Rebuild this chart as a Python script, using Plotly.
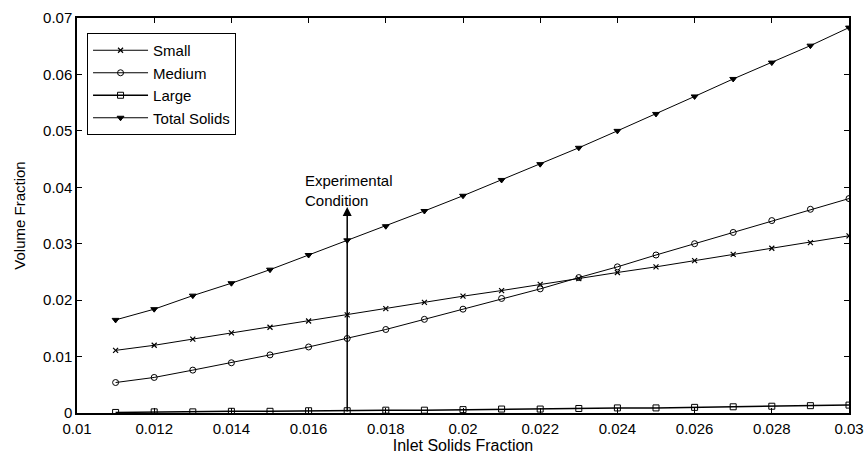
import plotly.graph_objects as go

x_vals = [0.011, 0.012, 0.013, 0.014, 0.015, 0.016, 0.017, 0.018, 0.019, 0.020,
          0.021, 0.022, 0.023, 0.024, 0.025, 0.026, 0.027, 0.028, 0.029, 0.030]
small = [0.0111, 0.0120, 0.0131, 0.0142, 0.0152, 0.0163, 0.0174, 0.0185, 0.0196, 0.0207,
         0.0217, 0.0228, 0.0238, 0.0249, 0.0259, 0.0270, 0.0281, 0.0292, 0.0302, 0.0314]
medium = [0.0054, 0.0063, 0.0076, 0.0089, 0.0103, 0.0117, 0.0132, 0.0148, 0.0166, 0.0184,
          0.0203, 0.0220, 0.0240, 0.0259, 0.0280, 0.0300, 0.0320, 0.0341, 0.0361, 0.0380]
large = [0.0001, 0.0002, 0.0002, 0.0003, 0.0003, 0.0004, 0.0004, 0.0005, 0.0005, 0.0006,
         0.0007, 0.0007, 0.0008, 0.0009, 0.0009, 0.0010, 0.0011, 0.0012, 0.0013, 0.0014]
total = [0.0165, 0.0184, 0.0208, 0.0230, 0.0254, 0.0280, 0.0306, 0.0331, 0.0358, 0.0385,
         0.0413, 0.0441, 0.0470, 0.0500, 0.0530, 0.0561, 0.0592, 0.0621, 0.0651, 0.0683]

exp_x = 0.017
arrow_top = 0.0365

x_ticks = [0.01, 0.012, 0.014, 0.016, 0.018, 0.02, 0.022, 0.024, 0.026, 0.028, 0.03]
x_tick_text = ["0.01", "0.012", "0.014", "0.016", "0.018", "0.02", "0.022", "0.024", "0.026", "0.028", "0.03"]
y_ticks = [0, 0.01, 0.02, 0.03, 0.04, 0.05, 0.06, 0.07]
y_tick_text = ["0", "0.01", "0.02", "0.03", "0.04", "0.05", "0.06", "0.07"]

FONT = "Liberation Sans, Arial, sans-serif"

fig = go.Figure()
fig.add_trace(go.Scatter(x=x_vals, y=small, name="Small", mode="lines+markers",
                         line=dict(color="black", width=1),
                         marker=dict(symbol="x-thin-open", size=5, color="black",
                                     line=dict(color="black", width=1.2))))
fig.add_trace(go.Scatter(x=x_vals, y=medium, name="Medium", mode="lines+markers",
                         line=dict(color="black", width=1),
                         marker=dict(symbol="circle-open", size=6, color="black",
                                     line=dict(color="black", width=1))))
fig.add_trace(go.Scatter(x=x_vals, y=large, name="Large", mode="lines+markers",
                         line=dict(color="black", width=1.5),
                         marker=dict(symbol="square-open", size=6, color="black",
                                     line=dict(color="black", width=1))))
fig.add_trace(go.Scatter(x=x_vals, y=total, name="Total Solids", mode="lines+markers",
                         line=dict(color="black", width=1),
                         marker=dict(symbol="triangle-down", size=6, color="black",
                                     line=dict(color="black", width=1))))

fig.add_annotation(x=exp_x, y=arrow_top, ax=exp_x, ay=0, xref="x", yref="y",
                   axref="x", ayref="y", showarrow=True, arrowhead=2, arrowsize=1.2,
                   arrowwidth=1.5, arrowcolor="black", text="")
fig.add_annotation(x=0.01585, y=0.0358, xref="x", yref="y", xanchor="left", yanchor="bottom",
                   showarrow=False, align="left",
                   text="Experimental<br>Condition",
                   font=dict(family=FONT, size=15, color="black"))

fig.update_layout(
    width=867, height=455,
    margin=dict(l=77, r=18, t=18, b=42),
    plot_bgcolor="white", paper_bgcolor="white",
    font=dict(family=FONT, size=15, color="black"),
    legend=dict(x=0.013, y=0.962, xanchor="left", yanchor="top",
                bordercolor="black", borderwidth=1, bgcolor="white",
                font=dict(family=FONT, size=15), tracegroupgap=0,
                itemwidth=55),
    showlegend=True,
)
fig.update_xaxes(range=[0.01, 0.03], tickvals=x_ticks, ticktext=x_tick_text,
                 ticks="inside", ticklen=5, tickcolor="black", showgrid=False,
                 zeroline=False, showline=True, linecolor="black", linewidth=1.5, mirror="ticks",
                 ticklabelstandoff=1, automargin=False,
                 title=dict(text="Inlet Solids Fraction", font=dict(size=16), standoff=0),
                 tickfont=dict(size=15))
fig.update_yaxes(range=[0, 0.07], tickvals=y_ticks, ticktext=y_tick_text,
                 ticks="inside", ticklen=5, tickcolor="black", showgrid=False,
                 zeroline=False, showline=True, linecolor="black", linewidth=1.5, mirror="ticks",
                 automargin=False,
                 title=dict(text="Volume Fraction", font=dict(size=15), standoff=14),
                 tickfont=dict(size=15))

fig.write_html("out.html")
